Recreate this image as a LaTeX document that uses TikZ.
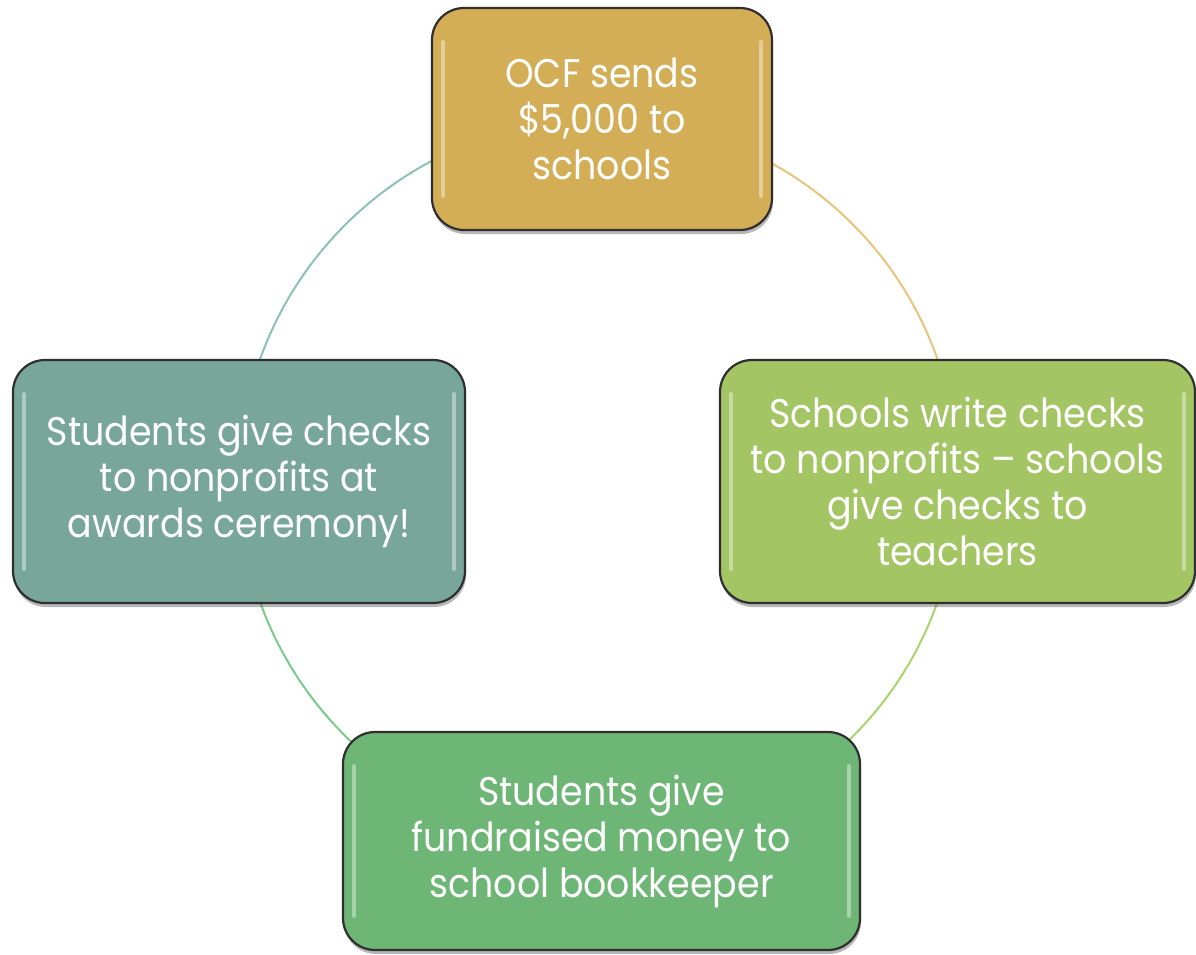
\documentclass[tikz,border=0pt]{standalone}
\usepackage{fontspec}
\setmainfont{Poppins}[FakeStretch=0.91]
\usetikzlibrary{shadows,backgrounds}
\definecolor{boxline}{HTML}{2F2F2F}
\definecolor{goldfill}{HTML}{D4AE57}
\definecolor{limefill}{HTML}{A3C563}
\definecolor{tealfill}{HTML}{78A79A}
\definecolor{greenfill}{HTML}{6DB675}
\definecolor{arcteal}{HTML}{8FC1B6}
\definecolor{arctan}{HTML}{E8C47C}
\definecolor{arclime}{HTML}{A8D66C}
\definecolor{arcgreen}{HTML}{7CCB8A}
\begin{document}
\begin{tikzpicture}[x=1pt,y=1pt,
  cyclebox/.style={draw=boxline, line width=2.2pt, rounded corners=32pt,
    text=white, align=center, inner sep=0pt,
    font=\fontsize{40}{46}\selectfont,
    drop shadow={shadow xshift=1pt, shadow yshift=-4pt, opacity=0.4, fill=black!70},
    path picture={
      \draw[white, opacity=0.4, line width=4pt, line cap=round]
        ([xshift=11pt,yshift=-34pt]path picture bounding box.north west) --
        ([xshift=11pt,yshift=34pt]path picture bounding box.south west);
      \draw[white, opacity=0.4, line width=4pt, line cap=round]
        ([xshift=-11pt,yshift=-34pt]path picture bounding box.north east) --
        ([xshift=-11pt,yshift=34pt]path picture bounding box.south east);
    }},
  cyclearc/.style={line width=2pt}
]
\useasboundingbox (0,0) rectangle (1196,-954);

\node[cyclebox, fill=goldfill, minimum width=340pt, minimum height=222pt] (top) at (602,-119)
  {OCF sends\\\$5,000 to\\schools};
\node[cyclebox, fill=limefill, minimum width=475pt, minimum height=243pt] (right) at (957.5,-481.5)
  {Schools write checks\\to nonprofits -- schools\\give checks to\\teachers};
\node[cyclebox, fill=tealfill, minimum width=452pt, minimum height=243pt] (left) at (239,-481.5)
  {Students give checks\\to nonprofits at\\awards ceremony!};
\node[cyclebox, fill=greenfill, minimum width=517pt, minimum height=218pt] (bottom) at (601.5,-841)
  {Students give\\fundraised money to\\school bookkeeper};

\begin{scope}[on background layer]
  \fill[white] (0,0) rectangle (1196,-954);
  \draw[cyclearc, arcteal] (top.center) to[bend right=45] (left.center);
  \draw[cyclearc, arctan] (top.center) to[bend left=45] (right.center);
  \draw[cyclearc, arclime] (right.center) to[bend left=45] (bottom.center);
  \draw[cyclearc, arcgreen] (left.center) to[bend right=45] (bottom.center);
\end{scope}
\end{tikzpicture}
\end{document}
